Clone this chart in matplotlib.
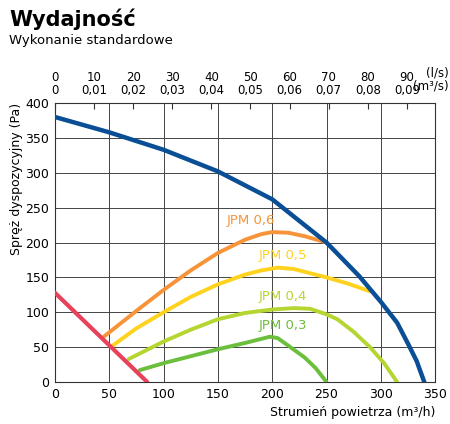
import matplotlib.pyplot as plt

# Data (x in m3/h, y in Pa)
blueX = [0, 50, 100, 150, 200, 250, 280, 300, 315, 325, 333, 340]
blueY = [380, 358, 333, 302, 262, 200, 152, 115, 85, 55, 30, 0]
redX = [0, 85]
redY = [128, 0]
jpm06X = [45, 75, 100, 125, 150, 175, 190, 200, 215, 230, 250]
jpm06Y = [65, 102, 132, 160, 185, 204, 212, 215, 214, 209, 200]
jpm05X = [53, 75, 100, 125, 150, 175, 190, 205, 220, 235, 250, 270, 290]
jpm05Y = [52, 77, 100, 122, 140, 154, 160, 164, 162, 156, 150, 141, 130]
jpm04X = [68, 100, 125, 150, 175, 200, 220, 235, 250, 260, 275, 290, 303, 315]
jpm04Y = [33, 58, 75, 90, 99, 104, 106, 105, 97, 90, 72, 50, 27, 0]
jpm03X = [78, 100, 125, 150, 175, 198, 205, 215, 230, 240, 250]
jpm03Y = [17, 27, 37, 47, 56, 65, 63, 52, 35, 20, 0]
curveLabels = ["JPM 0,6", "JPM 0,5", "JPM 0,4", "JPM 0,3"]
labelPos = [(180, 222), (210, 172), (210, 113), (210, 72)]
topLs = [0, 10, 20, 30, 40, 50, 60, 70, 80, 90]
topM3s = ["0", "0,01", "0,02", "0,03", "0,04", "0,05", "0,06", "0,07", "0,08", "0,09"]

colors = ["#f7943a", "#ffd21e", "#b5d630", "#6cbf3c"]

fig = plt.figure(figsize=(4.5, 4.24), dpi=100)
ax = fig.add_axes([0.122, 0.099, 0.845, 0.658])

ax.plot(blueX, blueY, color="#0a4f96", lw=3.2, solid_capstyle="round", zorder=5)
ax.plot(redX, redY, color="#e8415a", lw=3, solid_capstyle="round", zorder=4)
series = [(jpm06X, jpm06Y), (jpm05X, jpm05Y), (jpm04X, jpm04Y), (jpm03X, jpm03Y)]
for (xs, ys), c, lab, pos in zip(series, colors, curveLabels, labelPos):
    ax.plot(xs, ys, color=c, lw=2.8, solid_capstyle="round", zorder=3)
    ax.text(pos[0], pos[1], lab, color=c, fontsize=9.5, ha="center", va="bottom")

ax.set_xlim(0, 350)
ax.set_ylim(0, 400)
ax.set_xticks(range(0, 351, 50))
ax.set_yticks(range(0, 401, 50))
ax.grid(color="#444444", lw=0.7)
ax.tick_params(labelsize=9, length=0, pad=4)
for s in ax.spines.values():
    s.set_color("#333333")
ax.set_xlabel("Strumień powietrza (m³/h)", fontsize=9, loc="right", labelpad=4)
ax.set_ylabel("Spręż dyspozycyjny (Pa)", fontsize=9, loc="top", labelpad=2)

# top axis: l/s and m3/s
top = ax.twiny()
top.set_xlim(0, 350)
top.set_xticks([v * 3.6 for v in topLs])
top.set_xticklabels([f"{a}\n{b}" for a, b in zip(topLs, topM3s)], fontsize=8.5, linespacing=1.05)
top.tick_params(direction="in", length=4, color="#333333", pad=4)
for s in top.spines.values():
    s.set_visible(False)
fig.text(0.998, 0.781, "(l/s)\n(m³/s)", fontsize=8.5, ha="right", va="bottom",
         multialignment="right", linespacing=1.05)

fig.text(0.02, 0.955, "Wydajność", fontsize=15, fontweight="bold", va="center")
fig.text(0.02, 0.905, "Wykonanie standardowe", fontsize=9.5, va="center")

fig.savefig("out.png", dpi=100)
